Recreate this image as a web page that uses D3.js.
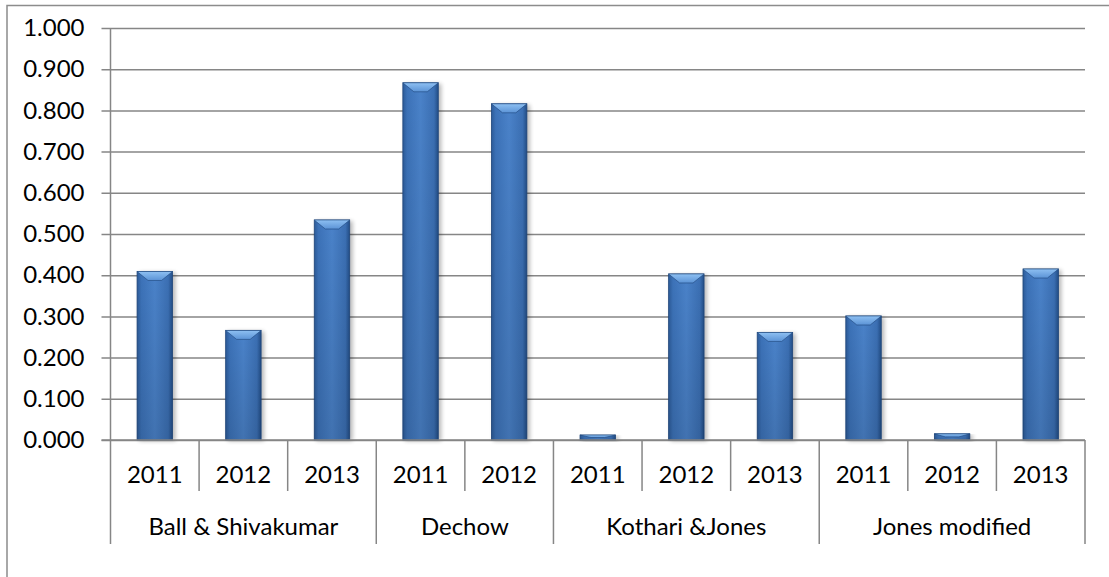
<!DOCTYPE html>
<html>
<head>
<meta charset="utf-8">
<script src="https://cdn.jsdelivr.net/npm/d3@7"></script>
<style>
  body { margin: 0; background: #fff; }
  text { font-family: Lato, "Open Sans", sans-serif; fill: #000; }
</style>
</head>
<body>
<div id="chart"></div>
<script>
// data
var groups = ["Ball & Shivakumar", "Dechow", "Kothari &Jones", "Jones modified"];
var groupYears = [["2011", "2012", "2013"], ["2011", "2012"], ["2011", "2012", "2013"], ["2011", "2012", "2013"]];
var values = [0.409, 0.266, 0.534, 0.867, 0.816, 0.012, 0.403, 0.261, 0.301, 0.015, 0.415];
var yTicks = [0, 0.1, 0.2, 0.3, 0.4, 0.5, 0.6, 0.7, 0.8, 0.9, 1.0];

var svgWidth = 1109;
var svgHeight = 577;

var margin = { top: 28, right: 24, bottom: 137, left: 110.5 };
var width = svgWidth - margin.left - margin.right;
var height = svgHeight - margin.top - margin.bottom;

var svg = d3.select("#chart")
    .append("svg")
    .attr("width", svgWidth)
    .attr("height", svgHeight);

// chart area border (left + top visible)
svg.append("path")
    .attr("d", "M7,577 V5.5 H1109")
    .attr("fill", "none")
    .attr("stroke", "#8c8c8c")
    .attr("stroke-width", 1.5);

var defs = svg.append("defs");
var grad = defs.append("linearGradient").attr("id", "barGrad")
    .attr("x1", "0%").attr("x2", "100%").attr("y1", "0%").attr("y2", "0%");
grad.append("stop").attr("offset", "0%").attr("stop-color", "#2c5b99");
grad.append("stop").attr("offset", "12%").attr("stop-color", "#3c72b8");
grad.append("stop").attr("offset", "50%").attr("stop-color", "#4a82c9");
grad.append("stop").attr("offset", "88%").attr("stop-color", "#3b6fb3");
grad.append("stop").attr("offset", "100%").attr("stop-color", "#224d86");

var vgrad = defs.append("linearGradient").attr("id", "shade")
    .attr("x1", "0%").attr("x2", "0%").attr("y1", "0%").attr("y2", "100%");
vgrad.append("stop").attr("offset", "0%").attr("stop-color", "#000").attr("stop-opacity", 0);
vgrad.append("stop").attr("offset", "100%").attr("stop-color", "#000").attr("stop-opacity", 0.12);

var topGrad = defs.append("linearGradient").attr("id", "topGrad")
    .attr("x1", "0%").attr("x2", "0%").attr("y1", "0%").attr("y2", "100%");
topGrad.append("stop").attr("offset", "0%").attr("stop-color", "#8ec0f2");
topGrad.append("stop").attr("offset", "100%").attr("stop-color", "#5b93d6");

var blur = defs.append("filter").attr("id", "shadow")
    .attr("x", "-20%").attr("y", "-5%").attr("width", "150%").attr("height", "115%");
blur.append("feGaussianBlur").attr("stdDeviation", 2);

var chartGroup = svg.append("g")
    .attr("transform", `translate(${margin.left}, ${margin.top})`);

var xScale = d3.scaleBand()
    .domain(d3.range(values.length))
    .range([0, width])
    .paddingInner(0.6)
    .paddingOuter(0.3);

var yScale = d3.scaleLinear()
    .domain([0, 1])
    .range([height, 0]);

// gridlines + left axis
var leftAxis = d3.axisLeft(yScale)
    .tickValues(yTicks)
    .tickFormat(d3.format(".3f"))
    .tickSize(-width - 9)
    .tickPadding(16);

var yAxis = chartGroup.append("g")
    .attr("transform", "translate(-9,0)")
    .call(leftAxis);
yAxis.select(".domain").remove();
yAxis.selectAll("line").attr("stroke", "#868686").attr("stroke-width", 1.5);
yAxis.selectAll("text").attr("font-size", "24px").attr("x", -17);

chartGroup.append("line")
    .attr("x1", 0).attr("x2", 0)
    .attr("y1", 0).attr("y2", height)
    .attr("stroke", "#868686").attr("stroke-width", 1.5);

// bars
var bw = xScale.bandwidth();
var bars = chartGroup.selectAll(".bar")
    .data(values)
    .enter()
    .append("g")
    .attr("class", "bar");

bars.append("rect")
    .attr("x", (d, i) => xScale(i) + 2)
    .attr("y", d => yScale(d) + 1)
    .attr("width", bw + 1)
    .attr("height", d => height - yScale(d))
    .attr("fill", "#000")
    .attr("opacity", 0.28)
    .attr("filter", "url(#shadow)");

bars.append("rect")
    .attr("x", (d, i) => xScale(i))
    .attr("y", d => yScale(d))
    .attr("width", bw)
    .attr("height", d => height - yScale(d))
    .attr("fill", "url(#barGrad)")
    .attr("stroke", "#1f467c")
    .attr("stroke-width", 0.8);

bars.append("rect")
    .attr("x", (d, i) => xScale(i))
    .attr("y", d => yScale(d))
    .attr("width", bw)
    .attr("height", d => height - yScale(d))
    .attr("fill", "url(#shade)");

// top bevel
bars.append("path")
    .attr("d", function(d, i) {
        var x0 = xScale(i), y0 = yScale(d);
        var h = Math.min(9, (height - y0) * 0.5);
        var inset = Math.min(11, bw / 3);
        return `M${x0},${y0} H${x0 + bw} L${x0 + bw - inset},${y0 + h} H${x0 + inset} Z`;
    })
    .attr("fill", "url(#topGrad)")
    .attr("stroke", "#1f467c")
    .attr("stroke-width", 0.6);

// bottom axis line
chartGroup.append("line")
    .attr("x1", -9).attr("x2", width)
    .attr("y1", height).attr("y2", height)
    .attr("stroke", "#868686").attr("stroke-width", 1.5);

// year labels and separators
var step = xScale.step();

var flatYears = [];
var groupStart = [];
groupYears.forEach(function(ys, g) {
    groupStart.push(flatYears.length);
    ys.forEach(y => flatYears.push(y));
});
groupStart.push(flatYears.length);

chartGroup.selectAll(".year")
    .data(flatYears)
    .enter()
    .append("text")
    .attr("class", "year")
    .attr("x", (d, i) => xScale(i) + bw / 2)
    .attr("y", height + 43)
    .attr("text-anchor", "middle")
    .attr("font-size", "24px")
    .text(d => d);

chartGroup.selectAll(".ytick")
    .data(d3.range(flatYears.length + 1).filter(i => groupStart.indexOf(i) < 0))
    .enter()
    .append("line")
    .attr("x1", i => i * step).attr("x2", i => i * step)
    .attr("y1", height).attr("y2", height + 51)
    .attr("stroke", "#868686").attr("stroke-width", 1.5);

chartGroup.selectAll(".gtick")
    .data(groupStart)
    .enter()
    .append("line")
    .attr("x1", i => i * step).attr("x2", i => i * step)
    .attr("y1", height).attr("y2", height + 104)
    .attr("stroke", "#868686").attr("stroke-width", 1.5);

chartGroup.selectAll(".group")
    .data(groups)
    .enter()
    .append("text")
    .attr("class", "group")
    .attr("x", (d, g) => (groupStart[g] + groupStart[g + 1]) / 2 * step)
    .attr("y", height + 95)
    .attr("text-anchor", "middle")
    .attr("font-size", "24px")
    .text(d => d);
</script>
</body>
</html>
